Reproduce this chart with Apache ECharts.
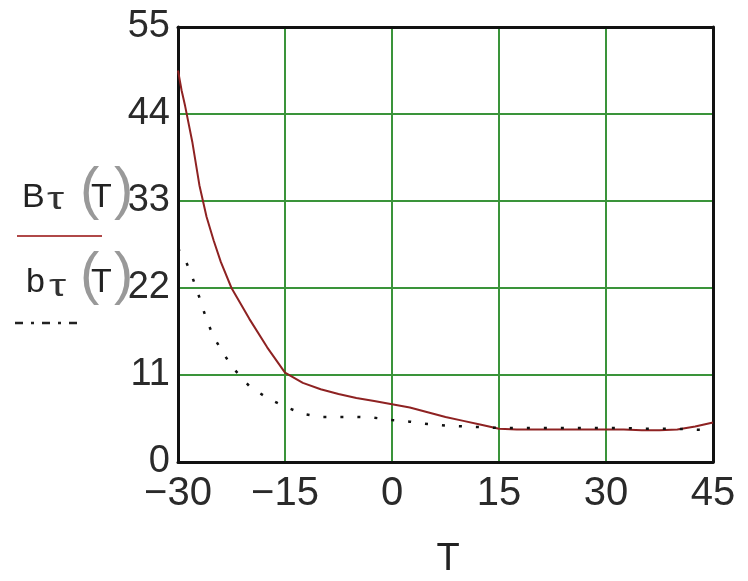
<!DOCTYPE html>
<html>
<head>
<meta charset="utf-8">
<script src="https://cdn.jsdelivr.net/npm/echarts@6/dist/echarts.min.js"></script>
<style>
html,body{margin:0;padding:0;background:#fff;}
#c{width:748px;height:581px;}
</style>
</head>
<body>
<div id="c"></div>
<script>
// Data
var T      = [-30, -29.5, -29, -28, -27, -26, -25, -24, -22.5, -20, -17.5, -15, -12.5, -10, -7.5, -5, -2.5, 0, 2.5, 5, 7.5, 10, 12.5, 15, 17.5, 20, 22.5, 25, 27.5, 30, 32.5, 35, 37.5, 40, 42.5, 45];
var Btau   = [49.5, 47, 45, 40.5, 35, 31, 28, 25.3, 22, 18.1, 14.5, 11.3, 10.0, 9.2, 8.6, 8.1, 7.7, 7.3, 6.9, 6.3, 5.7, 5.2, 4.7, 4.2, 4.1, 4.1, 4.1, 4.1, 4.1, 4.1, 4.1, 4.0, 4.0, 4.1, 4.5, 5.0];
var btau   = [27, 26.3, 25.6, 23.4, 20.8, 18, 15.8, 14.3, 12.1, 9.6, 8.1, 7.0, 6.1, 5.7, 5.7, 5.7, 5.6, 5.3, 5.1, 4.8, 4.6, 4.5, 4.4, 4.3, 4.3, 4.3, 4.3, 4.3, 4.3, 4.3, 4.3, 4.2, 4.2, 4.2, 4.1, 4.0];
var xTicks = [-30, -15, 0, 15, 30, 45];
var yTicks = [0, 11, 22, 33, 44, 55];

var FONT = 'Liberation Sans';
var chart = echarts.init(document.getElementById('c'));

function pairs(xs, ys){ return xs.map(function(x,i){ return [x, ys[i]]; }); }

var borderLine = {show:true, onZero:false, lineStyle:{color:'#111', width:3}};
var gridLine = {show:true, lineStyle:{color:'#3a943a', width:2}};

chart.setOption({
  animation:false,
  backgroundColor:'#fff',
  grid:{left:178, right:35, top:27, bottom:119},
  xAxis:[{
    type:'value', min:-30, max:45, interval:15, position:'bottom',
    axisLine:borderLine, axisTick:{show:false}, splitLine:gridLine,
    axisLabel:{
      fontFamily:FONT, fontSize:40, color:'#2a2a2a', margin:12,
      formatter:function(v){ return xTicks.indexOf(v) < 0 ? '' : (v < 0 ? '\u2212' + Math.abs(v) : String(v)); }
    }
  },{
    type:'value', min:-30, max:45, interval:15, position:'top',
    axisLine:borderLine, axisTick:{show:false}, axisLabel:{show:false}, splitLine:{show:false}
  }],
  yAxis:[{
    type:'value', min:0, max:55, interval:11, position:'left',
    axisLine:borderLine, axisTick:{show:false}, splitLine:gridLine,
    axisLabel:{
      fontFamily:FONT, fontSize:38, color:'#2a2a2a', margin:8, padding:[14,0,0,0],
      formatter:function(v){ return yTicks.indexOf(v) < 0 ? '' : String(v); }
    }
  },{
    type:'value', min:0, max:55, interval:11, position:'right',
    axisLine:borderLine, axisTick:{show:false}, axisLabel:{show:false}, splitLine:{show:false}
  }],
  series:[{
    name:'B\u03c4(T)', type:'line', data:pairs(T, Btau), showSymbol:false, smooth:false,
    lineStyle:{color:'#8e2222', width:2}, z:3
  },{
    name:'b\u03c4(T)', type:'line', data:pairs(T, btau), showSymbol:false, smooth:false,
    lineStyle:{color:'#111', width:2.5, type:[3,14]}, z:4
  }],
  graphic:[
    {type:'text', x:22, y:198, style:{text:'B', font:'34px ' + FONT, fill:'#222', verticalAlign:'middle'}},
    {type:'text', x:47, y:200, scaleX:1.35, style:{text:'\u03c4', font:'32px ' + FONT, fill:'#333', verticalAlign:'middle'}},
    {type:'text', x:80, y:192, style:{text:'(', font:'58px ' + FONT, fill:'#999', verticalAlign:'middle'}},
    {type:'text', x:91, y:198, style:{text:'T', font:'34px ' + FONT, fill:'#222', verticalAlign:'middle'}},
    {type:'text', x:114, y:192, style:{text:')', font:'58px ' + FONT, fill:'#999', verticalAlign:'middle'}},
    {type:'line', shape:{x1:17, y1:236, x2:102, y2:236}, style:{stroke:'#b04848', lineWidth:2}},
    {type:'text', x:26, y:283, style:{text:'b', font:'34px ' + FONT, fill:'#222', verticalAlign:'middle'}},
    {type:'text', x:49, y:287, scaleX:1.35, style:{text:'\u03c4', font:'32px ' + FONT, fill:'#333', verticalAlign:'middle'}},
    {type:'text', x:80, y:277, style:{text:'(', font:'58px ' + FONT, fill:'#999', verticalAlign:'middle'}},
    {type:'text', x:91, y:283, style:{text:'T', font:'34px ' + FONT, fill:'#222', verticalAlign:'middle'}},
    {type:'text', x:114, y:277, style:{text:')', font:'58px ' + FONT, fill:'#999', verticalAlign:'middle'}},
    {type:'line', shape:{x1:15, y1:323, x2:84, y2:323}, style:{stroke:'#222', lineWidth:2.5, lineDash:[8,8,3,8]}},
    {type:'text', x:448, y:560, style:{text:'T', font:'38px ' + FONT, fill:'#222', align:'center', verticalAlign:'middle'}}
  ]
});
</script>
</body>
</html>
